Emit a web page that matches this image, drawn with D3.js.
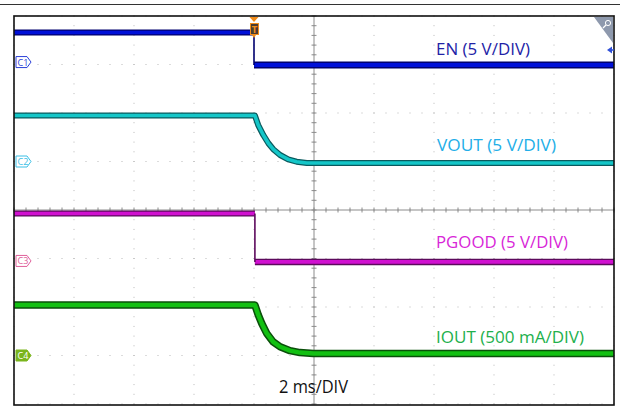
<!DOCTYPE html>
<html>
<head>
<meta charset="utf-8">
<script src="https://cdn.jsdelivr.net/npm/d3@7"></script>
<style>
  html, body { margin: 0; padding: 0; background: #fff; }
  svg { display: block; }
</style>
</head>
<body>
<svg id="chart" width="620" height="407"></svg>
<script>
// ---- data (time in ms, values in channel units) ----
const channelNames = ["EN", "VOUT", "PGOOD", "IOUT"];
const channelLabels = ["EN (5 V/DIV)", "VOUT (5 V/DIV)", "PGOOD (5 V/DIV)", "IOUT (500 mA/DIV)"];
const channelScale = [5, 5, 5, 0.5];           // units per division
const channelOffset = [3.05, 1.0, -1.05, -3.0]; // ground marker position, divisions
const timeLabel = "2 ms/DIV";

const enTime = [-8, 0.0, 0.0, 12];
const enValue = [3.05, 3.05, -0.3, -0.3];

const voutTime = [-8, 0.03, 0.14, 0.31, 0.48, 0.64, 0.87, 1.14, 1.42, 1.76, 2.2, 12];
const voutValue = [4.74, 4.74, 3.76, 2.73, 1.88, 1.27, 0.67, 0.22, -0.02, -0.15, -0.15, -0.15];

const pgoodTime = [-8, 0.03, 0.03, 12];
const pgoodValue = [4.89, 4.89, -0.1, -0.1];

const ioutTime = [-8, 0.03, 0.14, 0.26, 0.42, 0.64, 0.87, 1.2, 1.53, 1.98, 2.5, 12];
const ioutValue = [0.52, 0.52, 0.42, 0.33, 0.23, 0.14, 0.09, 0.05, 0.03, 0.02, 0.02, 0.02];

const timeDomain = [-8, 12];   // 10 divisions of 2 ms
const divDomain = [-4, 4];     // 8 vertical divisions

// ---- layout ----
const svg = d3.select("#chart");
const L = 14, R = 614, T = 16, B = 404;
const x = d3.scaleLinear().domain(timeDomain).range([L, R]);
const y = d3.scaleLinear().domain(divDomain).range([B, T]);

const colors = [
  { main: "#0010d8", edge: "#00006e", text: "#2222a6", marker: "#2b3fd8", w: [6, 3.6], w2: [7, 4] },
  { main: "#14c6c8", edge: "#0a5a5e", text: "#22aee8", marker: "#3cc0e6", w: [6, 3.6] },
  { main: "#d010d0", edge: "#5c0a5c", text: "#d826d8", marker: "#e0609a", w: [6, 3.6], w2: [6.5, 3.8] },
  { main: "#12c012", edge: "#0a4f0a", text: "#22b04c", marker: "#7ab51d", w: [7.5, 4.5] }
];

// outer top rule
svg.append("line").attr("x1", 0).attr("x2", 620).attr("y1", 4.5).attr("y2", 4.5)
  .attr("stroke", "#333").attr("stroke-width", 1.2);

// ---- grid (dotted) ----
const grid = svg.append("g");
const xDivs = d3.range(-8, 12.001, 2);
const yDivs = d3.range(-4, 4.001, 1);
xDivs.forEach(t => {
  d3.range(-4, 4.001, 0.2).forEach(v => {
    grid.append("rect").attr("x", x(t) - 0.5).attr("y", y(v) - 0.5)
      .attr("width", 1).attr("height", 1).attr("fill", "#b8b8b8");
  });
});
yDivs.forEach(v => {
  d3.range(-8, 12.001, 0.4).forEach(t => {
    grid.append("rect").attr("x", x(t) - 0.5).attr("y", y(v) - 0.5)
      .attr("width", 1).attr("height", 1).attr("fill", "#b8b8b8");
  });
});
// center axes with ticks
const cx = x(2), cy = y(0);
grid.append("line").attr("x1", cx).attr("x2", cx).attr("y1", T).attr("y2", B)
  .attr("stroke", "#8c8c8c").attr("stroke-width", 1);
grid.append("line").attr("x1", L).attr("x2", R).attr("y1", cy).attr("y2", cy)
  .attr("stroke", "#8c8c8c").attr("stroke-width", 1);
d3.range(-4, 4.001, 0.2).forEach(v => {
  grid.append("line").attr("x1", cx - 2.5).attr("x2", cx + 2.5).attr("y1", y(v)).attr("y2", y(v))
    .attr("stroke", "#8c8c8c").attr("stroke-width", 1);
});
d3.range(-8, 12.001, 0.4).forEach(t => {
  grid.append("line").attr("x1", x(t)).attr("x2", x(t)).attr("y1", cy - 2.5).attr("y2", cy + 2.5)
    .attr("stroke", "#8c8c8c").attr("stroke-width", 1);
});

// ---- traces ----
const series = [
  { t: enTime, v: enValue, step: true },
  { t: voutTime, v: voutValue, step: false },
  { t: pgoodTime, v: pgoodValue, step: true },
  { t: ioutTime, v: ioutValue, step: false }
];
const traces = svg.append("g");
series.forEach((s, i) => {
  const pts = s.t.map((t, k) => [x(t), y(channelOffset[i] + s.v[k] / channelScale[i])]);
  const line = d3.line().curve(d3.curveLinear);
  const c = colors[i];
  if (s.step) {
    const pre = pts.slice(0, 2), post = pts.slice(2);
    [[pre, c.w], [post, c.w2 || c.w]].forEach(([seg, w]) => {
      traces.append("path").attr("d", line(seg)).attr("fill", "none")
        .attr("stroke", c.edge).attr("stroke-width", w[0]);
      traces.append("path").attr("d", line(seg)).attr("fill", "none")
        .attr("stroke", c.main).attr("stroke-width", w[1]);
    });
    traces.append("line").attr("x1", pts[1][0]).attr("x2", pts[2][0])
      .attr("y1", pts[1][1]).attr("y2", pts[2][1])
      .attr("stroke", c.edge).attr("stroke-width", 1.6);
  } else {
    traces.append("path").attr("d", line(pts)).attr("fill", "none")
      .attr("stroke", c.edge).attr("stroke-width", c.w[0]).attr("stroke-linejoin", "round");
    traces.append("path").attr("d", line(pts)).attr("fill", "none")
      .attr("stroke", c.main).attr("stroke-width", c.w[1]).attr("stroke-linejoin", "round");
  }
});

// ---- labels ----
const labelPos = [
  { x: 436, y: 55, w: 94 },
  { x: 437, y: 151, w: 119 },
  { x: 436, y: 248, w: 132 },
  { x: 436, y: 343, w: 148 }
];
channelLabels.forEach((txt, i) => {
  svg.append("text").attr("x", labelPos[i].x).attr("y", labelPos[i].y)
    .attr("font-family", "'Open Sans', 'Noto Sans', sans-serif").attr("font-size", 17)
    .attr("fill", colors[i].text)
    .attr("textLength", labelPos[i].w).attr("lengthAdjust", "spacingAndGlyphs")
    .text(txt);
});
svg.append("text").attr("x", 279).attr("y", 393)
  .attr("font-family", "'Open Sans', 'Noto Sans', sans-serif").attr("font-size", 18)
  .attr("fill", "#111").attr("textLength", 69).attr("lengthAdjust", "spacingAndGlyphs")
  .text(timeLabel);

// ---- channel ground markers ----
channelNames.forEach((n, i) => {
  const my = y(channelOffset[i]);
  const filled = i === 3;
  svg.append("path")
    .attr("d", `M${L + 2},${my - 5.5} h11 l4,5.5 l-4,5.5 h-11 z`)
    .attr("fill", filled ? colors[i].marker : "#fff")
    .attr("stroke", colors[i].marker).attr("stroke-width", 1);
  svg.append("text").attr("x", L + 3.5).attr("y", my + 3.5)
    .attr("font-family", "'Open Sans', sans-serif").attr("font-size", 9)
    .attr("fill", filled ? "#fff" : colors[i].marker).text("C" + (i + 1));
});

// ---- frame ----
svg.append("rect").attr("x", L).attr("y", T).attr("width", R - L).attr("height", B - T + 1)
  .attr("fill", "none").attr("stroke", "#111").attr("stroke-width", 1.6);

// ---- trigger marker ----
const tx = x(0);
svg.append("path").attr("d", `M${tx - 4.5},${T + 1} h9 l-4.5,5 z`).attr("fill", "#f08c1a");
svg.append("rect").attr("x", tx - 3.5).attr("y", 23.5).attr("width", 8).attr("height", 11)
  .attr("fill", "#4a3c32").attr("stroke", "#f08c1a").attr("stroke-width", 1);
svg.append("text").attr("x", tx + 0.5).attr("y", 32.5).attr("text-anchor", "middle")
  .attr("font-family", "'DejaVu Sans', sans-serif").attr("font-size", 8).attr("font-weight", "bold")
  .attr("fill", "#f08c1a").text("T");
svg.append("path").attr("d", `M${tx - 2},${35} h4 l-2,3 z`).attr("fill", "#f08c1a");

// ---- zoom icon (top right) ----
svg.append("path").attr("d", `M${R - 20},${T + 1} H${R - 1} V${T + 27} z`).attr("fill", "#8e99ad");
svg.append("circle").attr("cx", R - 6).attr("cy", T + 7).attr("r", 2.6)
  .attr("fill", "none").attr("stroke", "#fff").attr("stroke-width", 1);
svg.append("line").attr("x1", R - 8).attr("y1", T + 9).attr("x2", R - 11).attr("y2", T + 12)
  .attr("stroke", "#fff").attr("stroke-width", 1.2);

// ---- trigger level arrow ----
svg.append("path").attr("d", `M${R - 7},50 l5,-3.5 v7 z`).attr("fill", "#3050d8");
svg.append("line").attr("x1", R - 3).attr("x2", R).attr("y1", 50).attr("y2", 50)
  .attr("stroke", "#3050d8").attr("stroke-width", 1.5);
</script>
</body>
</html>
